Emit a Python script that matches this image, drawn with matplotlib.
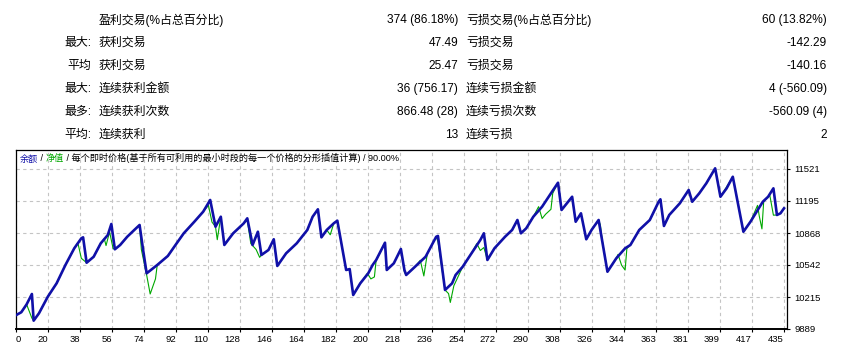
import matplotlib
matplotlib.use("Agg")
import matplotlib.pyplot as plt

W, H = 842, 346
CJK = ["Liberation Sans", "Noto Sans CJK SC", "DejaVu Sans"]
plt.rcParams["font.family"] = CJK

# summary table (top part of the report)
row_prefix = ["", "最大:", "平均", "最大:", "最多:", "平均:"]
win_labels = ["盈利交易(%占总百分比)", "获利交易", "获利交易", "连续获利金额", "连续获利次数", "连续获利"]
win_values = ["374 (86.18%)", "47.49", "25.47", "36 (756.17)", "866.48 (28)", "13"]
loss_labels = ["亏损交易(%占总百分比)", "亏损交易", "亏损交易", "连续亏损金额", "连续亏损次数", "连续亏损"]
loss_values = ["60 (13.82%)", "-142.29", "-140.16", "4 (-560.09)", "-560.09 (4)", "2"]

# balance / equity curves: trade number -> account value
bal_idx = [0, 3, 6, 9, 10, 13, 18, 23, 28, 33, 37, 38, 40, 44, 48, 52, 54, 56, 59, 63, 67, 70,
           72, 74, 80, 86, 91, 95, 101, 106, 110, 113, 116, 118, 123, 129, 131, 134, 137, 139,
           143, 146, 148, 153, 159, 165, 168, 171, 173, 176, 180, 182, 187, 189, 191, 195, 199.5,
           202, 204, 209, 210, 214, 218, 220, 221, 226, 232, 235, 238, 239, 243, 247, 249, 253,
           258, 263, 265, 267, 271, 277, 281, 284, 286, 289, 293, 298, 303, 307, 309, 315, 317,
           320, 323, 326, 330, 335, 340, 345, 348, 353, 359, 364, 365, 367, 370, 376, 381, 383,
           387, 391, 396, 399, 402.5, 406, 412, 416, 423, 426, 429, 431, 433, 435]
bal_val = [10030, 10060, 10140, 10246, 9974, 10049, 10218, 10355, 10542, 10712, 10814, 10824,
           10565, 10626, 10763, 10848, 10960, 10702, 10746, 10830, 10899, 10950,
           10695, 10457, 10542, 10634, 10763, 10865, 10983, 11085, 11205, 10932, 11034, 10746,
           10865, 10967, 11018, 10746, 10881, 10644,
           10695, 10804, 10532, 10661, 10763, 10899, 11034, 11110, 10824, 10899, 10967, 10994,
           10491, 10500, 10236, 10355, 10457,
           10542, 10593, 10769, 10491, 10559, 10705, 10491, 10440, 10524, 10626, 10728, 10830,
           10838, 10287, 10355, 10440, 10524,
           10661, 10797, 10865, 10593, 10712, 10830, 10899, 11001, 10865, 10916, 11034, 11137,
           11273, 11381, 11103, 11238, 10983,
           11069, 10804, 10899, 11001, 10473, 10610, 10712, 10746, 10899, 11001, 11187, 11212,
           10940, 11052, 11171, 11307, 11187,
           11273, 11375, 11528, 11238, 11324, 11442, 10881, 10983, 11187, 11238, 11324, 11052,
           11069, 11120]

eq_idx = [0, 3, 6, 9, 10, 13, 18, 23, 28, 33, 35, 37, 40, 44, 48, 50, 51, 53, 55, 56, 59, 63,
          67, 70, 71, 74, 76, 79, 80, 86, 91, 95, 101, 106, 109, 111, 113, 114, 116, 118, 123,
          129, 131, 133, 136, 138, 139, 143, 146, 148, 153, 159, 165, 168, 171, 173, 176, 178,
          180, 182, 187, 189, 191, 195, 199, 201, 203, 204, 209, 210, 214, 218, 220, 221, 226,
          229, 231, 233, 235, 238, 239, 243, 245, 246, 248, 253, 258, 261, 263, 265, 267, 271,
          277, 281, 284, 286, 289, 293, 296, 298, 300, 303, 304, 307, 309, 315, 317, 320, 323,
          326, 330, 331, 332, 335, 340, 341, 343, 345, 346, 348, 353, 359, 364, 365, 367, 370,
          376, 381, 383, 387, 391, 396, 399, 402, 406, 412, 416, 420, 421, 422.5, 423.5, 426,
          427, 429, 431, 433, 435]
eq_val = [10030, 10060, 10140, 10000, 9974, 10049, 10218, 10355, 10542, 10712, 10770, 10610,
          10565, 10626, 10763, 10810, 10740, 10880, 10710, 10702, 10746, 10830,
          10899, 10950, 10700, 10440, 10246, 10400, 10542, 10634, 10763, 10865, 10983, 11085,
          11150, 10980, 10932, 10800, 11034, 10746, 10865,
          10967, 11000, 10760, 10700, 10620, 10644, 10695, 10804, 10532, 10661, 10763, 10899,
          11034, 11110, 10824, 10899, 10850,
          10967, 10994, 10491, 10500, 10236, 10355, 10457, 10400, 10420, 10593, 10769, 10491,
          10559, 10705, 10470, 10440, 10524,
          10590, 10430, 10660, 10728, 10830, 10780, 10287, 10250, 10160, 10330, 10524, 10661,
          10760, 10690, 10720, 10593, 10712,
          10830, 10899, 11001, 10865, 10916, 11034, 11137, 11016, 11060, 11110, 11273, 11381,
          11103, 11238, 10983, 11069, 10804,
          10899, 11001, 10950, 10800, 10473, 10610, 10650, 10540, 10490, 10710, 10746, 10899,
          11001, 11187, 11212, 10940, 11052,
          11171, 11307, 11187, 11273, 11375, 11528, 11238, 11324, 11442, 10881, 10983, 11150,
          11040, 10910, 11190, 11238,
          11250, 11050, 11052, 11069, 11120]

x_labels = ["0", "20", "38", "56", "74", "92", "110", "128", "146", "164", "182", "200", "218",
            "236", "254", "272", "290", "308", "326", "344", "363", "381", "399", "417", "435"]
y_ticks = [9889, 10215, 10542, 10868, 11195, 11521]

fig = plt.figure(figsize=(W / 100, H / 100), dpi=100)
fig.patch.set_facecolor("white")

# --- table ---
row_y = [20, 43, 66, 89, 112, 135]
fs = 8.6
for i, y in enumerate(row_y):
    fy = 1 - y / H
    if row_prefix[i]:
        fig.text(91 / W, fy, row_prefix[i], ha="right", va="center", fontsize=fs)
    fig.text(99 / W, fy, win_labels[i], ha="left", va="center", fontsize=fs)
    fig.text(458 / W, fy, win_values[i], ha="right", va="center", fontsize=fs)
    fig.text(466 / W, fy, loss_labels[i], ha="left", va="center", fontsize=fs)
    fig.text(827 / W, fy, loss_values[i], ha="right", va="center", fontsize=fs)

# --- chart ---
ax = fig.add_axes([16 / W, 17 / H, 771 / W, 179 / H])
x_max = 435 * 771 / 768
y_top = 9889 + 179 * 10.2
ax.set_xlim(0, x_max)
ax.set_ylim(9889, y_top)

ax.plot(eq_idx, eq_val, color="#00A800", lw=0.8, zorder=3)
ax.plot(bal_idx, bal_val, color="#1010A8", lw=1.9, zorder=4)

xt = [k * 435 / 24 for k in range(25)]
ax.set_xticks(xt)
ax.set_xticklabels(x_labels)
for i, lab in enumerate(ax.get_xticklabels()):
    lab.set_ha("left" if i == 0 else "right")
ax.yaxis.tick_right()
ax.set_yticks(y_ticks)
ax.set_yticklabels([str(v) for v in y_ticks])
ax.tick_params(axis="both", labelsize=6.8, length=2.5, width=0.8, color="black", pad=1.5)
ax.tick_params(axis="y", pad=3)

ax.grid(True, color="#C4C4C4", linestyle=(0, (3, 3)), linewidth=0.8, zorder=0)
for side in ["top", "left", "right"]:
    ax.spines[side].set_linewidth(0.9)
ax.spines["bottom"].set_linewidth(1.4)

# coloured chart caption
cap_fs = 6.6
t1 = ax.text(4 / 771, 0.95, "余额", transform=ax.transAxes, fontsize=cap_fs,
             color="#1010A8", va="center", ha="left", zorder=5)
t2 = ax.annotate(" / ", xy=(1, 0), xycoords=t1, va="bottom", ha="left",
                 fontsize=cap_fs, color="black")
t3 = ax.annotate("净值", xy=(1, 0), xycoords=t2, va="bottom", ha="left",
                 fontsize=cap_fs, color="#00A800")
ax.annotate(" / 每个即时价格(基于所有可利用的最小时段的每一个价格的分形插值计算) / 90.00%",
            xy=(1, 0), xycoords=t3, va="bottom", ha="left", fontsize=cap_fs, color="black")

fig.savefig("out.png", dpi=100, facecolor="white")
